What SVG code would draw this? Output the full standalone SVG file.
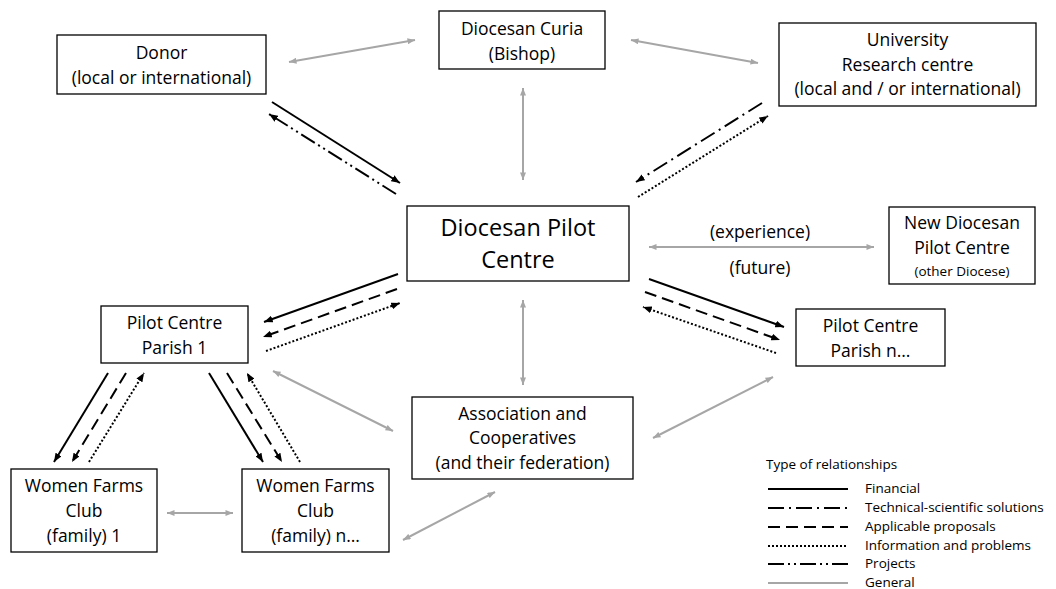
<svg xmlns="http://www.w3.org/2000/svg" width="1056" height="589" viewBox="0 0 1056 589">
<style>
.box{fill:#fff;stroke:#000;stroke-width:1.3}
text{font-family:"Open Sans","Noto Sans","Liberation Sans",sans-serif;fill:#000;text-anchor:middle}
.t{font-size:17.5px}
.big{font-size:23.5px}
.sm{font-size:13.5px}
.lg{font-size:13.5px;text-anchor:start}
.g{stroke:#a6a6a6;stroke-width:2;fill:none}
.k{stroke:#000;stroke-width:2;fill:none}
.dash{stroke-dasharray:12 6}
.dot{stroke-dasharray:2 2}
.tech{stroke-dasharray:16 5 2 5}
.proj{stroke-dasharray:16 4 2 4 2 4}
</style>
<defs>
<marker id="ak" viewBox="0 0 10 8" refX="10" refY="4" markerWidth="9" markerHeight="7" markerUnits="userSpaceOnUse" orient="auto-start-reverse"><path d="M0,0 L10,4 L0,8 z" fill="#000"/></marker>
<marker id="ag" viewBox="0 0 10 8" refX="10" refY="4" markerWidth="8" markerHeight="6" markerUnits="userSpaceOnUse" orient="auto-start-reverse"><path d="M0,0 L10,4 L0,8 z" fill="#a6a6a6"/></marker>
</defs>
<rect width="1056" height="589" fill="#fff"/>
<g id="connectors">
<line class="g" x1="289" y1="62" x2="415" y2="40" marker-start="url(#ag)" marker-end="url(#ag)"/>
<line class="g" x1="631" y1="40" x2="758" y2="63" marker-start="url(#ag)" marker-end="url(#ag)"/>
<line class="g" x1="523" y1="88" x2="523" y2="180" marker-start="url(#ag)" marker-end="url(#ag)"/>
<line class="g" x1="649" y1="247" x2="874" y2="247" marker-start="url(#ag)" marker-end="url(#ag)"/>
<line class="g" x1="523" y1="300" x2="523" y2="385" marker-start="url(#ag)" marker-end="url(#ag)"/>
<line class="g" x1="273" y1="371" x2="393" y2="431" marker-start="url(#ag)" marker-end="url(#ag)"/>
<line class="g" x1="773" y1="377" x2="653" y2="438" marker-start="url(#ag)" marker-end="url(#ag)"/>
<line class="g" x1="167" y1="513" x2="233" y2="513" marker-start="url(#ag)" marker-end="url(#ag)"/>
<line class="g" x1="403" y1="540" x2="495" y2="492" marker-start="url(#ag)" marker-end="url(#ag)"/>
<line class="k" x1="272" y1="102" x2="400" y2="183" marker-end="url(#ak)"/>
<line class="k proj" x1="396" y1="194" x2="269" y2="114" marker-end="url(#ak)"/>
<line class="k tech" x1="762" y1="103" x2="636" y2="182" marker-end="url(#ak)"/>
<line class="k dot" x1="638" y1="197" x2="768" y2="116" marker-end="url(#ak)"/>
<line class="k" x1="398" y1="274" x2="264" y2="322" marker-end="url(#ak)"/>
<line class="k dash" x1="397" y1="289" x2="263" y2="337" marker-end="url(#ak)"/>
<line class="k dot" x1="266" y1="351" x2="400" y2="303" marker-end="url(#ak)"/>
<line class="k" x1="649" y1="279" x2="784" y2="327" marker-end="url(#ak)"/>
<line class="k dash" x1="645" y1="292" x2="780" y2="340" marker-end="url(#ak)"/>
<line class="k dot" x1="776" y1="353" x2="643" y2="307" marker-end="url(#ak)"/>
<line class="k" x1="108" y1="373" x2="54" y2="462" marker-end="url(#ak)"/>
<line class="k dash" x1="126" y1="373" x2="72" y2="462" marker-end="url(#ak)"/>
<line class="k dot" x1="89" y1="462" x2="144" y2="373" marker-end="url(#ak)"/>
<line class="k" x1="209" y1="373" x2="263" y2="462" marker-end="url(#ak)"/>
<line class="k dash" x1="227" y1="373" x2="282" y2="462" marker-end="url(#ak)"/>
<line class="k dot" x1="300" y1="462" x2="247" y2="373" marker-end="url(#ak)"/>
</g>
<g id="donor"><rect class="box" x="57" y="35" width="209" height="59"/><text class="t" x="161.5" y="59">Donor</text><text class="t" x="161.5" y="84">(local or international)</text></g>
<g id="curia"><rect class="box" x="439" y="11" width="166" height="58"/><text class="t" x="522" y="35">Diocesan Curia</text><text class="t" x="522" y="60">(Bishop)</text></g>
<g id="university"><rect class="box" x="779" y="23" width="257" height="83"/><text class="t" x="907.5" y="46">University</text><text class="t" x="907.5" y="71">Research centre</text><text class="t" x="907.5" y="95">(local and / or international)</text></g>
<g id="dpc"><rect class="box" x="407" y="206" width="222" height="75"/><text class="big" x="518" y="236">Diocesan Pilot</text><text class="big" x="518" y="268">Centre</text></g>
<g id="new-dpc"><rect class="box" x="889" y="207" width="146" height="77"/><text class="t" x="962" y="229">New Diocesan</text><text class="t" x="962" y="254">Pilot Centre</text><text class="sm" x="962" y="276">(other Diocese)</text></g>
<g id="labels"><text class="t" x="760" y="238">(experience)</text><text class="t" x="760" y="274">(future)</text></g>
<g id="parish-n"><rect class="box" x="796" y="309" width="149" height="57"/><text class="t" x="870.5" y="332">Pilot Centre</text><text class="t" x="870.5" y="357">Parish n…</text></g>
<g id="parish-1"><rect class="box" x="101" y="306" width="147" height="57"/><text class="t" x="174.5" y="329">Pilot Centre</text><text class="t" x="174.5" y="354">Parish 1</text></g>
<g id="wfc-1"><rect class="box" x="11" y="469" width="146" height="83"/><text class="t" x="84" y="492">Women Farms</text><text class="t" x="84" y="517">Club</text><text class="t" x="84" y="542">(family) 1</text></g>
<g id="wfc-n"><rect class="box" x="242" y="469" width="147" height="83"/><text class="t" x="315.5" y="492">Women Farms</text><text class="t" x="315.5" y="517">Club</text><text class="t" x="315.5" y="542">(family) n…</text></g>
<g id="association"><rect class="box" x="412" y="397" width="221" height="82"/><text class="t" x="522.5" y="420">Association and</text><text class="t" x="522.5" y="444">Cooperatives</text><text class="t" x="522.5" y="469">(and their federation)</text></g>
<g id="legend">
<text class="lg" x="766" y="469">Type of relationships</text>
<line class="k" x1="768" y1="489" x2="848" y2="489"/><text class="lg" x="865" y="493">Financial</text>
<line class="k tech" x1="768" y1="508" x2="848" y2="508"/><text class="lg" x="865" y="512">Technical-scientific solutions</text>
<line class="k dash" x1="768" y1="527" x2="848" y2="527"/><text class="lg" x="865" y="531">Applicable proposals</text>
<line class="k dot" x1="768" y1="546" x2="848" y2="546"/><text class="lg" x="865" y="550">Information and problems</text>
<line class="k proj" x1="768" y1="564" x2="848" y2="564"/><text class="lg" x="865" y="568">Projects</text>
<line class="g" x1="768" y1="583" x2="848" y2="583"/><text class="lg" x="865" y="587">General</text>
</g>
</svg>
